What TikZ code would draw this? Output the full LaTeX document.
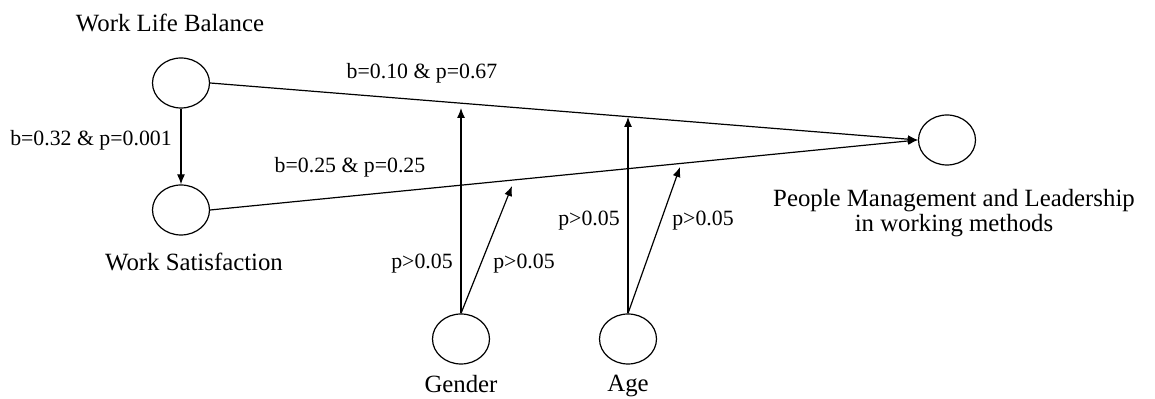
\documentclass[tikz,border=0pt]{standalone}
\usepackage{fontspec}
\setmainfont{Liberation Serif}
\usetikzlibrary{arrows.meta, positioning, shapes.geometric}

\begin{document}
\begin{tikzpicture}[
  x=0.5pt, y=-0.5pt,
  latent/.style={ellipse, draw, line width=0.6pt, minimum width=28.5pt, minimum height=25pt, inner sep=0pt},
  caption/.style={font=\fontsize{12.4}{12.6}\selectfont, align=center, inner sep=0pt},
  coef/.style={font=\fontsize{10.9}{13}\selectfont, inner sep=0pt},
  link/.style={line width=0.6pt, -{Latex[length=5pt,width=4pt]}}
]
\useasboundingbox (0,0) rectangle (1155,399);
% latent variables
\node[latent] (wlb) at (181,83) {};
\node[latent] (ws) at (181,210) {};
\node[latent] (pml) at (947,140) {};
\node[latent] (gen) at (461,339) {};
\node[latent] (age) at (628,339) {};
% captions
\node[caption] (wlbtext) at (170,23) {Work Life Balance};
\node[caption] (wstext) at (194,262) {Work Satisfaction};
\node[caption] (pmltext) at (954,213) {People Management and Leadership\\in working methods};
\node[caption, below=5pt of gen] (gentext) {Gender};
\node[caption, below=5pt of age] (agetext) {Age};
% free ends of the moderator arrows
\coordinate (g1) at (461,108);
\coordinate (g2) at (512,186);
\coordinate (a1) at (628,117);
\coordinate (a2) at (680,167);
% paths
\draw[link] (wlb) -- (ws);
\draw[link] (wlb.east) -- (pml.west);
\draw[link] (ws.east) -- (pml.west);
\draw[link] (gen.north) -- (g1);
\draw[link] (gen.north) -- (g2);
\draw[link] (age.north) -- (a1);
\draw[link] (age.north) -- (a2);
% coefficients
\node[coef] (c1) at (91,140) {b=0.32 \& p=0.001};
\node[coef] (c2) at (422,73) {b=0.10 \& p=0.67};
\node[coef] (c3) at (350,167) {b=0.25 \& p=0.25};
\node[coef] (c4) at (422,264) {p>0.05};
\node[coef] (c5) at (524,264) {p>0.05};
\node[coef] (c6) at (589,221) {p>0.05};
\node[coef] (c7) at (703,221) {p>0.05};
\end{tikzpicture}
\end{document}
